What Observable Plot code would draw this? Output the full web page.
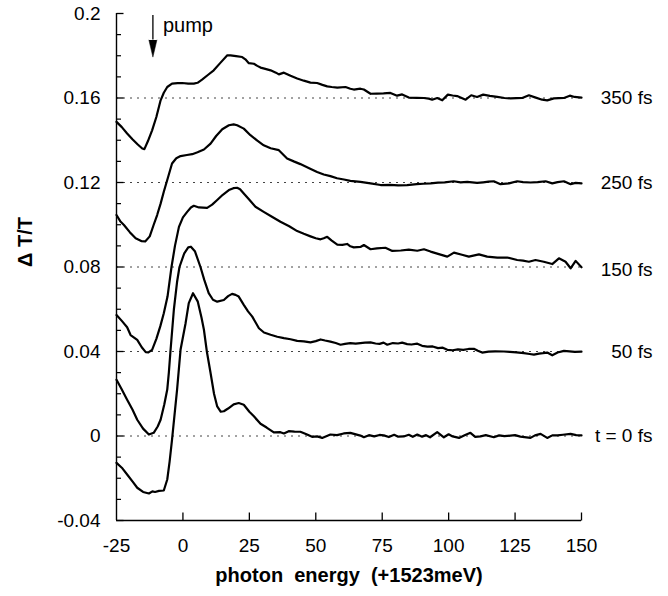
<!DOCTYPE html>
<html>
<head>
<meta charset="utf-8">
<script src="https://cdn.jsdelivr.net/npm/d3@7"></script>
<script src="https://cdn.jsdelivr.net/npm/@observablehq/plot@0.6"></script>
<style>
  body { margin: 0; background: #fff; }
  #chart svg { display: block; }
</style>
</head>
<body>
<div id="chart"></div>
<script>
// ---- data (photon energy in meV relative to 1523 meV, ΔT/T) ----
const seriesNames = ["t = 0 fs", "50 fs", "150 fs", "250 fs", "350 fs"];
const baselines = [0, 0.04, 0.08, 0.12, 0.16];
const labelY = [0, 0.04, 0.0785, 0.12, 0.16];

const energy0 = [-25,-23,-21,-19,-17.2,-15,-12.8,-11.5,-10.5,-9,-7.2,-5.9,-5,-4.1,-3,-2.2,-0.9,1,2.2,3.8,5.6,7,7.9,9,10.4,11.7,12.9,14.2,15.4,17,19.1,21,22.9,25,26.7,29.2,31.5,34.2,36.7,38,39.8,42,44.2,46.5,48.6,50.5,52.4,55.5,58,60.5,63,66.8,68.1,70,72,74,75.6,77.5,79.5,81,83.1,85,86.5,88.2,90,91.5,93,95.7,98.2,100,101.5,103.9,106,108.2,110,112,114,117,119,121,123.3,125,127,130.8,132.5,134.6,137.1,139,140.9,143,145.9,148,150];
const dT0 = [-0.0127,-0.015,-0.0182,-0.0215,-0.0245,-0.0265,-0.0272,-0.0262,-0.0265,-0.026,-0.0258,-0.0206,-0.012,-0.0017,0.012,0.022,0.0408,0.0534,0.0629,0.0676,0.0636,0.056,0.0503,0.040,0.0298,0.020,0.014,0.0115,0.0117,0.013,0.015,0.0156,0.0148,0.0115,0.0093,0.0058,0.004,0.0017,0.0018,0.0012,0.0023,0.0021,0.002,0.0008,-0.0004,-0.0002,-0.0009,0.0007,0.0004,0.0012,0.0015,0.0002,-0.0006,0.0004,-0.0002,0.0005,0.0003,-0.0005,0.0006,-0.0003,-0.0002,0.0006,-0.0004,0.0007,-0.0003,0.0004,-0.0006,0.0018,-0.0006,0.0008,-0.0002,-0.0009,0.0003,0.0015,-0.0004,-0.0002,0.0004,-0.0006,0.0003,-0.0001,0.0002,0.0004,-0.0003,-0.0009,0.0003,0.001,-0.0009,0.0003,0.0003,0.0006,0.001,0.0004,0.0003];

const energy50 = [-25,-23,-21,-19,-17.2,-15,-12.8,-11,-9.5,-8.4,-7,-5.9,-5.3,-4.7,-3.4,-2.2,-1.3,0.5,2,3,4.5,6.6,8,9.7,11.3,12.9,15.4,17,18.5,19.8,21,22.9,24.5,26.1,28.6,30.5,33,35.5,38,40.5,43,45.5,48,50,51.8,53.5,55.5,57.5,59.3,61,63,65,66.8,68.5,70.6,72.5,74,75.5,76.9,79,81,82.5,84.4,86,88.2,90,92,94,96,97.8,99.5,101.5,103.5,105.5,107.5,109.5,111,112.6,115,117.5,120.8,123,125.5,128.3,130.5,132.1,134,135.5,137.1,139,141,143.4,145.5,147.5,150];
const dT50 = [0.0266,0.022,0.0172,0.0125,0.0077,0.0035,0.0007,0.0015,0.0045,0.0077,0.015,0.022,0.030,0.040,0.060,0.073,0.080,0.0865,0.0893,0.0896,0.0875,0.080,0.074,0.0676,0.0645,0.0636,0.0644,0.0662,0.0673,0.0668,0.066,0.0621,0.059,0.0565,0.051,0.049,0.0479,0.047,0.0463,0.0458,0.045,0.0448,0.0443,0.0449,0.0457,0.0452,0.0447,0.044,0.0432,0.0436,0.044,0.0437,0.044,0.0442,0.0443,0.0438,0.0436,0.0442,0.0432,0.044,0.0438,0.0442,0.0435,0.0433,0.0437,0.0427,0.0423,0.0424,0.0416,0.0418,0.0408,0.0406,0.041,0.0408,0.0412,0.0413,0.0404,0.0395,0.0399,0.0401,0.04,0.0398,0.0396,0.0392,0.0388,0.0385,0.039,0.0392,0.0395,0.0382,0.0395,0.0403,0.0401,0.0398,0.0399];

const energy150 = [-25,-23,-21,-19.7,-17.2,-15.5,-14,-13,-11.6,-10,-8.5,-7.2,-5.8,-4.3,-3,-1.5,0,1.6,3,4.1,6,9.1,11,12.9,15,17.3,19,20.4,21.5,22.9,25,27.3,30.4,33.5,36.7,40,43,45.5,48,50,51.8,53,54.3,56,58.1,60,61.8,63,64.3,66.8,68.1,70.6,73,76.2,78.8,82,85,88.2,90.7,93.2,96,99.5,102,105,107.6,111.4,114.5,118.3,122,125.8,128,130.2,132.7,135.8,139,141.5,144,145.9,147.8,150];
const dT150 = [0.0573,0.0545,0.0515,0.0478,0.0455,0.042,0.0397,0.0396,0.0408,0.046,0.052,0.0581,0.066,0.080,0.090,0.099,0.1035,0.1061,0.1082,0.109,0.1082,0.108,0.1095,0.1117,0.1142,0.1164,0.1173,0.1175,0.1168,0.1148,0.1118,0.1085,0.1061,0.1038,0.1014,0.0993,0.097,0.0957,0.0945,0.0936,0.0931,0.0936,0.0943,0.0925,0.0906,0.0905,0.0909,0.0898,0.0893,0.0895,0.0904,0.0884,0.0888,0.0891,0.0876,0.0878,0.0882,0.0877,0.0884,0.0873,0.0862,0.0849,0.0868,0.0858,0.0849,0.086,0.0849,0.0844,0.0845,0.0833,0.083,0.0825,0.0833,0.0825,0.0814,0.0841,0.0825,0.0794,0.0829,0.0799];

const energy250 = [-25,-23.5,-22.2,-20,-17.8,-15.5,-14.2,-12.5,-11,-9.7,-8.4,-7.2,-5.6,-4.1,-2.5,-0.9,1.5,3.5,5.5,7.9,10.4,12.5,14.8,17.3,19.1,20.4,22.9,25.4,28,30.4,33,36.1,39.2,41.7,44.2,47.5,50.5,53,55.5,58,60.6,63,66.8,70.6,74.4,78,81,84.4,88,90.5,93.2,96,98.5,101.9,104.5,107,110.7,113,115,117,119.5,122.7,125.8,128,130.8,133.5,136.5,139,141,143.4,145.9,147.8,150];
const dT250 = [0.1046,0.1015,0.0999,0.0965,0.0936,0.0922,0.0921,0.0945,0.1,0.1046,0.110,0.1156,0.1225,0.129,0.1315,0.1325,0.133,0.1334,0.1343,0.1356,0.1384,0.142,0.1452,0.1471,0.1475,0.1471,0.1455,0.1424,0.1398,0.1376,0.1362,0.1353,0.1314,0.13,0.1287,0.1268,0.125,0.1238,0.123,0.122,0.1214,0.1208,0.1203,0.1196,0.1188,0.1189,0.1186,0.1188,0.1192,0.1194,0.1196,0.1199,0.1201,0.1206,0.1201,0.1203,0.1198,0.1201,0.1204,0.1206,0.1192,0.1196,0.1206,0.1202,0.12,0.1202,0.1206,0.1196,0.1202,0.1206,0.1192,0.1198,0.1196];

const energy350 = [-25,-23,-21,-19,-17,-15.3,-14.5,-13.2,-11.6,-10,-8.4,-7.2,-5.9,-4.1,-2,-0.3,2,4.1,5.5,7.2,9.5,11.6,14,16.7,17.9,20,22.3,23.5,24.8,26.7,28,29.2,31,33,35,36.1,38,40.5,43,45.5,48,50.5,52.5,54.3,56,58.1,61.2,63,64.3,66.8,68.1,70.6,73,75.5,78.1,80.6,82.5,85,88,90.7,92.5,93.8,95.7,97.6,99.7,101.5,103.2,106.4,108.5,110.7,113,115.5,118.3,121,123.3,125.5,127.7,130.2,132.5,135.2,137.1,139.6,141.5,143.4,145.6,147.4,150];
const dT350 = [0.1487,0.1462,0.1432,0.1405,0.138,0.1361,0.1358,0.1395,0.1447,0.151,0.1589,0.1625,0.1652,0.1668,0.167,0.1671,0.1668,0.1668,0.1672,0.1687,0.171,0.1731,0.1765,0.1802,0.1802,0.1798,0.1794,0.1783,0.1765,0.1762,0.1752,0.1744,0.1738,0.1731,0.172,0.1712,0.172,0.1705,0.1692,0.1682,0.1673,0.1671,0.1662,0.1655,0.1652,0.1649,0.1652,0.1644,0.164,0.1644,0.164,0.162,0.1621,0.1622,0.1624,0.1611,0.1617,0.1602,0.1601,0.16,0.1597,0.1592,0.16,0.1589,0.1616,0.1612,0.1609,0.1592,0.1613,0.1605,0.1616,0.161,0.1605,0.16,0.1598,0.1599,0.16,0.1613,0.1603,0.1592,0.1589,0.1598,0.1599,0.16,0.1611,0.1605,0.1602];

const xDomain = [-25, 150];
const yDomain = [-0.04, 0.2];
const xTicks = [-25, 0, 25, 50, 75, 100, 125, 150];
const xTickLabels = ["-25", "0", "25", "50", "75", "100", "125", "150"];
const yMajorTicks = [0.2, 0.16, 0.12, 0.08, 0.04, 0, -0.04];
const yTickLabels = ["0.2", "0.16", "0.12", "0.08", "0.04", "0", "-0.04"];
const yMinorTicks = [0.19,0.18,0.17,0.15,0.14,0.13,0.11,0.10,0.09,0.07,0.06,0.05,0.03,0.02,0.01,-0.01,-0.02,-0.03];

const pumpX = [-11.3];
const pumpShaftY = [0.199, 0.1874];
const pumpLabelY = [0.1943];
const pumpText = ["pump"];
const xLabel = ["photon  energy  (+1523meV)"];
const yLabel = ["\u0394 T/T"];

// ---- build table ----
const energies = [energy0, energy50, energy150, energy250, energy350];
const values = [dT0, dT50, dT150, dT250, dT350];
const rows = seriesNames.flatMap((s, k) => energies[k].map((e, i) => ({series: s, energy: e, dT: values[k][i]})));
const labelRows = seriesNames.map((s, k) => ({series: s, energy: xDomain[1], dT: labelY[k]}));

// custom symbols for inward-pointing tick marks
const tickRight = (len) => ({draw(ctx) { ctx.moveTo(0, 0); ctx.lineTo(len, 0); }});
const tickUp = (len) => ({draw(ctx) { ctx.moveTo(0, 0); ctx.lineTo(0, -len); }});

const chart = Plot.plot({
  width: 668,
  height: 596,
  marginLeft: 116,
  marginRight: 87,
  marginTop: 13,
  marginBottom: 76,
  style: {fontFamily: "'Liberation Sans', Arial, Helvetica, sans-serif", fontSize: "19px", color: "#000", background: "#fff", overflow: "visible"},
  x: {domain: xDomain},
  y: {domain: yDomain},
  marks: [
    Plot.ruleY(baselines, {stroke: "#444", strokeWidth: 1, strokeDasharray: "2,5"}),
    Plot.ruleX([xDomain[0]], {stroke: "#000", strokeWidth: 1.4}),
    Plot.ruleY([yDomain[0]], {stroke: "#000", strokeWidth: 1.4}),
    Plot.dot(yMajorTicks, {x: () => xDomain[0], y: d => d, symbol: tickRight(7), stroke: "#000", strokeWidth: 1.3, fill: "none"}),
    Plot.dot(yMinorTicks, {x: () => xDomain[0], y: d => d, symbol: tickRight(4.5), stroke: "#000", strokeWidth: 1.2, fill: "none"}),
    Plot.dot(xTicks.slice(1), {x: d => d, y: () => yDomain[0], symbol: tickUp(8), stroke: "#000", strokeWidth: 1.3, fill: "none"}),
    Plot.axisY(yMajorTicks, {tickSize: 0, tickPadding: 16, tickFormat: (d) => yTickLabels[yMajorTicks.indexOf(d)], label: null, fontSize: 19}),
    Plot.axisX(xTicks, {tickSize: 0, tickPadding: 18, tickFormat: (d) => xTickLabels[xTicks.indexOf(d)], label: null, fontSize: 19}),
    Plot.line(rows, {x: "energy", y: "dT", z: "series", stroke: "#000", strokeWidth: 2.2, strokeLinejoin: "round"}),
    Plot.text(labelRows, {x: "energy", y: "dT", text: "series", dx: 71, textAnchor: "end", fontSize: 19}),
    Plot.ruleX(pumpX, {y1: pumpShaftY[0], y2: pumpShaftY[1], stroke: "#000", strokeWidth: 1.3}),
    Plot.vector(pumpX, {x: d => d, y: pumpShaftY[1], rotate: 180, length: 17, r: 4, shape: "spike", anchor: "start", fill: "#000", stroke: "#000", strokeWidth: 0.5}),
    Plot.text(pumpText, {x: pumpX, y: pumpLabelY, dx: 10, textAnchor: "start", fontSize: 20}),
    Plot.text(xLabel, {frameAnchor: "bottom", dy: 61, fontWeight: "bold", fontSize: 20}),
    Plot.text(yLabel, {frameAnchor: "left", dx: -91, rotate: -90, fontWeight: "bold", fontSize: 20})
  ]
});
document.getElementById("chart").append(chart);
</script>
</body>
</html>
